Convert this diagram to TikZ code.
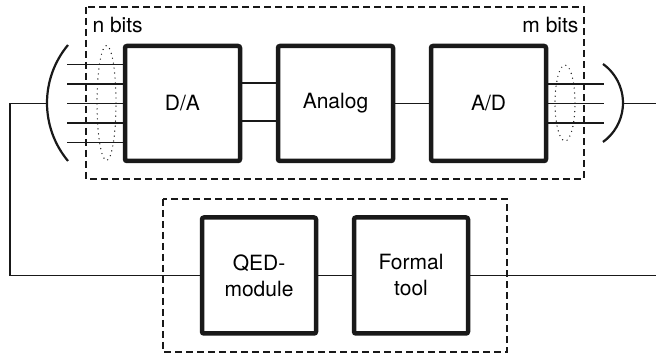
\documentclass[tikz,border=0pt]{standalone}
\usepackage{fontspec}
\setmainfont{TeX Gyre Heros}
\usetikzlibrary{positioning,calc}

\begin{document}
\begin{tikzpicture}[
    x=1pt, y=-1pt,
    font=\fontsize{21}{26}\selectfont,
    blk/.style ={draw=black!90, line width=4.5pt, rounded corners=2pt,
                 outer sep=0pt, align=center, minimum width=115pt,
                 minimum height=115pt, inner sep=0pt},
    wire/.style={line width=1.6pt, draw=black!90},
    bow/.style ={line width=2.2pt, draw=black!90},
    grp/.style ={line width=1.5pt, draw=black!90, dash pattern=on 7pt off 4pt},
    dots/.style={line width=1.4pt, draw=black!90, dash pattern=on 0pt off 5pt,
                 line cap=round},
  ]
  \useasboundingbox (0,0) rectangle (656,355);
  % converter chain
  \node[blk] (da) at (182.5,103.5) {D/A};
  \node[blk, right=38pt of da] (an) {Analog};
  \node[blk, right=38pt of an] (ad) {A/D};
  % verification chain
  \node[blk, minimum width=114pt, minimum height=116pt] (qed) at (259,275.5) {QED-\\module};
  \node[blk, minimum width=114pt, minimum height=116pt, right=38pt of qed] (ft) {Formal\\tool};
  % grouped containers
  \draw[grp] (86,7) rectangle (584,179);
  \draw[grp] (163,199) rectangle (507,352);
  \node[anchor=base west] (nb) at (89,33) {n bits};
  \node[anchor=base east] (mb) at (582,33) {m bits};
  % bit buses
  \foreach \o in {-39,-19.5,0,19.5,39}
    \draw[wire] ([yshift=\o pt]da.west) -- ++(-58,0);
  \foreach \o in {-19.5,0,19.5}
    \draw[wire] ([yshift=\o pt]ad.east) -- ++(58,0);
  \draw[dots] (106.5,103) ellipse[x radius=9.5pt, y radius=57.5pt];
  \draw[dots] (565,103) ellipse[x radius=10pt, y radius=38pt];
  \draw[bow] (68,45) arc[start angle=140.2, end angle=219.8, radius=90.6pt];
  \draw[bow] (603,64) arc[start angle=54.3, end angle=-54.3, radius=48pt];
  % arrows
  \coordinate (lb) at (47,103.5);
  \coordinate (rb) at (623,103.5);
  \coordinate (redge) at (656,0);
  \draw[wire] ([yshift=20.5pt]da.east) -- ([yshift=20.5pt]an.west);
  \draw[wire] ([yshift=-17.5pt]da.east) -- ([yshift=-17.5pt]an.west);
  \draw[wire] (an) -- (ad);
  \draw[wire] (qed) -- (ft);
  \draw[wire] (lb) -- (10,103.5) |- (qed.west);
  \draw[wire] (rb) -- (rb -| redge);
  \draw[wire] (ft.east) -- (ft.east -| redge);
\end{tikzpicture}
\end{document}
